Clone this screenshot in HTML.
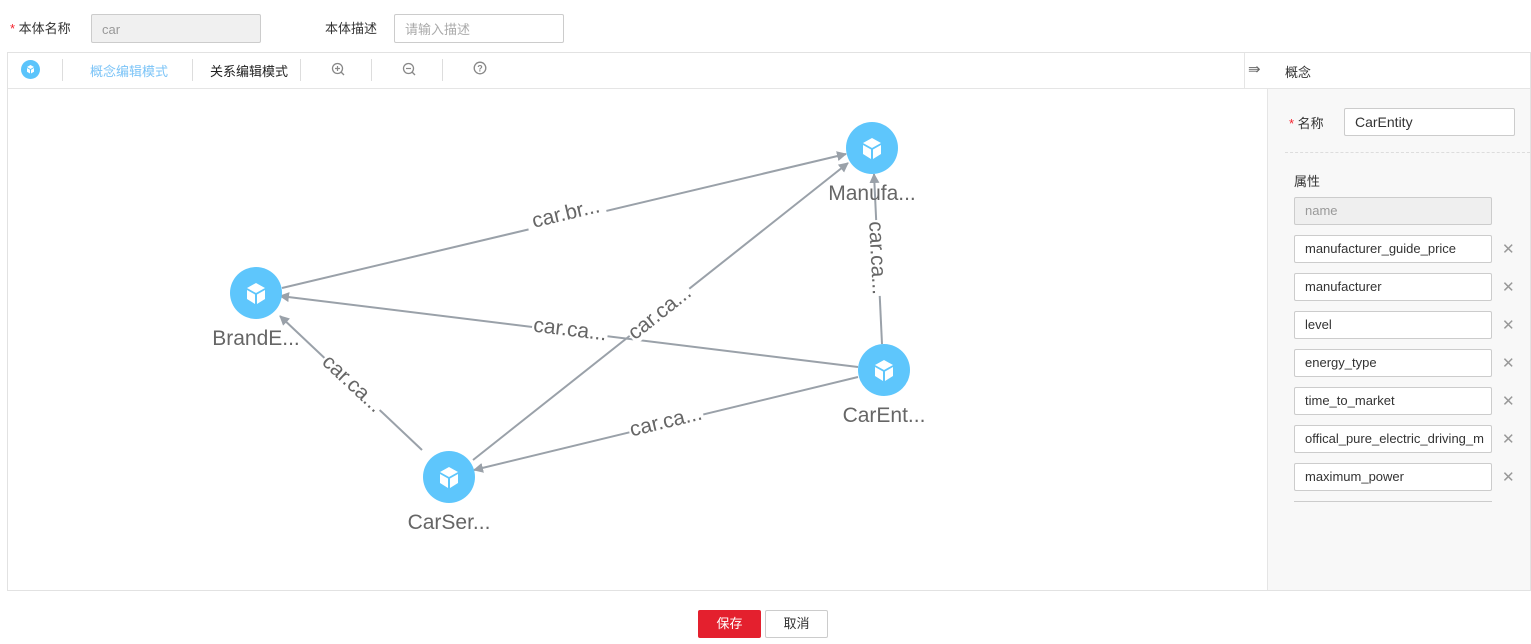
<!DOCTYPE html>
<html><head><meta charset="utf-8"><style>
body{margin:0;width:1531px;height:644px;background:#fff;font-family:"Liberation Sans","Noto Sans CJK SC",sans-serif;position:relative;overflow:hidden;color:#333}
.a{position:absolute}
.inp{position:absolute;box-sizing:border-box;border:1px solid #ccc;border-radius:2px;background:#fff;font-size:13px;line-height:26px;padding-left:10px;color:#333;height:28px}
.x{position:absolute;left:1502px;font-size:15px;color:#999}
.sep{position:absolute;top:59px;width:1px;height:22px;background:#ddd}
</style></head><body>
<div class="a" style="left:10px;top:18px;font-size:13px"><span style="color:#f5222d">*</span> 本体名称</div>
<div class="inp" style="left:91px;top:14px;width:170px;height:29px;background:#f0f0f0;color:#999;line-height:29px">car</div>
<div class="a" style="left:325px;top:18px;font-size:13px">本体描述</div>
<div class="inp" style="left:394px;top:14px;width:170px;height:29px;color:#aaa;line-height:29px">请输入描述</div>

<div class="a" style="left:7px;top:52px;width:1524px;height:539px;border:1px solid #e2e2e2;box-sizing:border-box"></div>
<div class="a" style="left:8px;top:88px;width:1259px;height:1px;background:#e5e5e5"></div>
<svg class="a" style="left:20px;top:59px" width="21" height="21"><circle cx="10.5" cy="10.5" r="9.5" fill="#5bc4fb"/><path d="M10.5,6 L14,8 L10.5,10 L7,8z M7,9 L10,10.8 L10,14.5 L7,12.8z M14,9 L11,10.8 L11,14.5 L14,12.8z" fill="#fff"/></svg>
<div class="sep" style="left:62px"></div>
<div class="a" style="left:90px;top:61px;font-size:13px;color:#7cc4f7">概念编辑模式</div>
<div class="sep" style="left:192px"></div>
<div class="a" style="left:210px;top:61px;font-size:13px;color:#222">关系编辑模式</div>
<div class="sep" style="left:300px"></div>
<svg class="a" style="left:331px;top:62px" width="14" height="14"><circle cx="6.5" cy="6.5" r="5" fill="none" stroke="#888" stroke-width="1.3"/><path d="M4,6.5h5M6.5,4v5" stroke="#888" stroke-width="1.2"/><path d="M10,10l3,3" stroke="#888" stroke-width="1.3"/></svg>
<div class="sep" style="left:371px"></div>
<svg class="a" style="left:402px;top:62px" width="14" height="14"><circle cx="6.5" cy="6.5" r="5" fill="none" stroke="#888" stroke-width="1.3"/><path d="M4,6.5h5" stroke="#888" stroke-width="1.2"/><path d="M10,10l3,3" stroke="#888" stroke-width="1.3"/></svg>
<div class="sep" style="left:442px"></div>
<svg class="a" style="left:473px;top:61px" width="14" height="14"><circle cx="7" cy="7" r="5.8" fill="none" stroke="#888" stroke-width="1.3"/><text x="7" y="10.5" font-size="9" font-weight="bold" fill="#888" text-anchor="middle" font-family="Liberation Sans">?</text></svg>

<div class="a" style="left:1244px;top:53px;width:1px;height:35px;background:#e5e5e5"></div>
<div class="a" style="left:1248px;top:60px;font-size:15px;color:#666">⇛</div>
<div class="a" style="left:1285px;top:62px;font-size:13px;color:#333">概念</div>
<div class="a" style="left:1267px;top:88px;width:263px;height:502px;background:#f8f8f8;border-left:1px solid #e5e5e5;border-top:1px solid #e5e5e5;box-sizing:border-box"></div>
<div class="a" style="left:1289px;top:113px;font-size:13px"><span style="color:#f5222d">*</span> 名称</div>
<div class="inp" style="left:1344px;top:108px;width:171px;font-size:14px">CarEntity</div>
<div class="a" style="left:1285px;top:152px;width:245px;border-top:1px dashed #ddd"></div>
<div class="a" style="left:1294px;top:171px;font-size:13px">属性</div>
<div class="inp" style="left:1294px;top:197px;width:198px;background:#efefef;color:#999">name</div>
<div class="inp" style="left:1294px;top:235px;width:198px">manufacturer_guide_price</div><div class="x" style="top:240px">✕</div>
<div class="inp" style="left:1294px;top:273px;width:198px">manufacturer</div><div class="x" style="top:278px">✕</div>
<div class="inp" style="left:1294px;top:311px;width:198px">level</div><div class="x" style="top:316px">✕</div>
<div class="inp" style="left:1294px;top:349px;width:198px">energy_type</div><div class="x" style="top:354px">✕</div>
<div class="inp" style="left:1294px;top:387px;width:198px">time_to_market</div><div class="x" style="top:392px">✕</div>
<div class="inp" style="left:1294px;top:425px;width:198px;overflow:hidden;white-space:nowrap">offical_pure_electric_driving_m</div><div class="x" style="top:430px">✕</div>
<div class="inp" style="left:1294px;top:463px;width:198px">maximum_power</div><div class="x" style="top:468px">✕</div>
<div class="a" style="left:1294px;top:501px;width:198px;height:1px;background:#ccc"></div>

<svg class="a" style="left:0;top:0" width="1531" height="644">
<defs><marker id="ar" markerWidth="10" markerHeight="10" refX="9" refY="5" orient="auto" markerUnits="userSpaceOnUse"><path d="M0,0 L10,5 L0,10 z" fill="#9aa1a9"/></marker></defs>
<g stroke="#9aa1a9" stroke-width="2" fill="none" marker-end="url(#ar)">
<line x1="282" y1="288" x2="846" y2="154"/>
<line x1="473" y1="460" x2="848" y2="163"/>
<line x1="882" y1="344" x2="874" y2="174"/>
<line x1="858" y1="367" x2="280" y2="296"/>
<line x1="422" y1="450" x2="280" y2="316"/>
<line x1="858" y1="377" x2="474" y2="470"/>
</g>
<g font-family="Liberation Sans,sans-serif" font-size="21" fill="#666" text-anchor="middle">
<g transform="translate(566,214) rotate(-13.4)"><rect x="-40" y="-14" width="80" height="24" fill="#fff"/><text y="6">car.br...</text></g>
<g transform="translate(660,313) rotate(-38.4)"><rect x="-38" y="-14" width="76" height="24" fill="#fff"/><text y="6">car.ca...</text></g>
<g transform="translate(877,258) rotate(87)"><rect x="-38" y="-14" width="76" height="24" fill="#fff"/><text y="6">car.ca...</text></g>
<g transform="translate(570,330) rotate(7)"><rect x="-38" y="-14" width="76" height="24" fill="#fff"/><text y="6">car.ca...</text></g>
<g transform="translate(352,384) rotate(43)"><rect x="-38" y="-14" width="76" height="24" fill="#fff"/><text y="6">car.ca...</text></g>
<g transform="translate(666,422) rotate(-13.6)"><rect x="-38" y="-14" width="76" height="24" fill="#fff"/><text y="6">car.ca...</text></g>
</g>
<g>
<circle cx="872" cy="148" r="26" fill="#5ec6fc"/>
<circle cx="256" cy="293" r="26" fill="#5ec6fc"/>
<circle cx="884" cy="370" r="26" fill="#5ec6fc"/>
<circle cx="449" cy="477" r="26" fill="#5ec6fc"/>
</g>
<g fill="#fff">
<g transform="translate(872,148)"><path d="M0,-10 L9,-5 L0,0 L-9,-5z M-9,-3 L-1,1.5 L-1,11 L-9,6z M9,-3 L1,1.5 L1,11 L9,6z"/></g>
<g transform="translate(256,293)"><path d="M0,-10 L9,-5 L0,0 L-9,-5z M-9,-3 L-1,1.5 L-1,11 L-9,6z M9,-3 L1,1.5 L1,11 L9,6z"/></g>
<g transform="translate(884,370)"><path d="M0,-10 L9,-5 L0,0 L-9,-5z M-9,-3 L-1,1.5 L-1,11 L-9,6z M9,-3 L1,1.5 L1,11 L9,6z"/></g>
<g transform="translate(449,477)"><path d="M0,-10 L9,-5 L0,0 L-9,-5z M-9,-3 L-1,1.5 L-1,11 L-9,6z M9,-3 L1,1.5 L1,11 L9,6z"/></g>
</g>
<g font-family="Liberation Sans,sans-serif" font-size="21" fill="#666" text-anchor="middle">
<text x="872" y="200">Manufa...</text>
<text x="256" y="345">BrandE...</text>
<text x="884" y="422">CarEnt...</text>
<text x="449" y="529">CarSer...</text>
</g>
</svg>

<div class="a" style="left:698px;top:610px;width:63px;height:28px;background:#e4202e;border-radius:2px;color:#fff;font-size:13px;line-height:28px;text-align:center">保存</div>
<div class="a" style="left:765px;top:610px;width:63px;height:28px;box-sizing:border-box;border:1px solid #ccc;border-radius:2px;color:#333;font-size:13px;line-height:26px;text-align:center">取消</div>
</body></html>
